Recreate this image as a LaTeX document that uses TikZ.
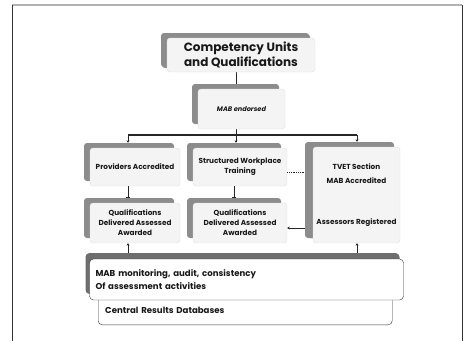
\documentclass[tikz,border=0pt]{standalone}
\usepackage{fontspec}
\setmainfont{Poppins}
\usetikzlibrary{shadows,arrows.meta,backgrounds}

\definecolor{shadowgray}{HTML}{8C8C8C}
\definecolor{darkshadow}{HTML}{6E6E6E}
\definecolor{paleface}{HTML}{F4F4F4}

\tikzset{
    unitbox/.style={rounded corners=3pt, fill=paleface, draw=gray!25,
        inner sep=0pt, align=center, text=black!90,
        font=\bfseries\fontsize{7.3}{10}\selectfont,
        drop shadow={shadow xshift=-6pt, shadow yshift=5pt,
            fill=shadowgray, opacity=1}},
    notebox/.style={rounded corners=4pt, fill=white, draw=black!80,
        inner sep=0pt, align=left, text=black!90,
        font=\bfseries\fontsize{8.6}{13}\selectfont},
    link/.style={draw=black!85, line width=0.8pt},
    tip/.style={-{Stealth[length=2.5pt,width=3pt]}},
    bartip/.style={-{Bar[width=4.5pt,line width=1.2pt]}}
}

\begin{document}
\begin{tikzpicture}[x=1pt,y=-1pt]

    \useasboundingbox (0,0) rectangle (465,340);

    % outer frame
    \draw[gray!60, line width=1.3pt] (12,5) -- (462,5);
    \draw[black!80, line width=0.8pt] (12,5) -- (12,345)
        (462,5) -- (462,345);

    % upper boxes
    \node[unitbox, minimum width=148pt, minimum height=34pt,
        font=\bfseries\fontsize{12}{15}\selectfont,
        drop shadow={shadow xshift=-5pt, shadow yshift=4pt, fill=shadowgray, opacity=1}]
        (units) at (241,55) {Competency Units\\and Qualifications};
    \node[unitbox, minimum width=87pt, minimum height=40pt,
        font=\bfseries\itshape\fontsize{6.6}{8}\selectfont]
        (endorsed) at (241.5,109) {MAB endorsed};

    % middle rows
    \node[unitbox, minimum width=90pt, minimum height=38pt]
        (providers) at (135,167) {Providers Accredited};
    \node[unitbox, minimum width=94pt, minimum height=38pt]
        (workplace) at (240,167) {Structured Workplace\\Training};
    \node[unitbox, minimum width=87pt, minimum height=96pt,
        drop shadow={shadow xshift=-8pt, shadow yshift=5pt, fill=shadowgray, opacity=1}]
        (tvet) at (356.5,195) {TVET Section\\[4pt]MAB Accredited\\[31pt]Assessors Registered};
    \node[unitbox, minimum width=90pt, minimum height=40pt]
        (qualA) at (135,223) {Qualifications\\Delivered Assessed\\Awarded};
    \node[unitbox, minimum width=94pt, minimum height=40pt]
        (qualB) at (240,223) {Qualifications\\Delivered Assessed\\Awarded};

    % bottom boxes
    \node[notebox, minimum width=294pt, minimum height=29pt, text width=280pt,
        anchor=south west, inner xsep=7pt]
        (database) at (98,325) {Central Results Databases};
    \node[notebox, minimum width=313pt, minimum height=41pt, text width=302pt,
        inner xsep=6pt,
        drop shadow={shadow xshift=-4pt, shadow yshift=6pt, fill=darkshadow, opacity=1}]
        (monitor) at (246.5,279.5) {MAB monitoring, audit, consistency\\Of assessment activities};

    % connectors
    \coordinate (split) at (236,135);
    \coordinate (splitL) at (128,135);
    \coordinate (splitR) at (357,135);

    \begin{scope}[on background layer]
    \draw[link] (units.south -| split) -- (split);
    \end{scope}
    \draw[link, line width=1.2pt] (splitL) -- (splitR);
    \draw[link, tip] (split) -- ([yshift=5pt]workplace.north -| split);
    \draw[link, tip] (splitL) -- ([yshift=5pt]providers.north -| splitL);
    \draw[link, tip] (splitR) -- ([yshift=5pt]tvet.north -| splitR);

    \draw[link, bartip] (providers.south -| splitL) -- ([yshift=5pt]qualA.north -| splitL);
    \draw[link, bartip] ([xshift=-6pt]workplace.south) -- ([xshift=-6pt,yshift=5pt]qualB.north);

    \draw[link, densely dotted, line width=0.6pt]
        ([yshift=-5pt]workplace.east) -- ([xshift=-8pt,yshift=-5pt]tvet.west |- workplace.east);
    \draw[link, tip, line width=0.6pt]
        ([xshift=-8pt]tvet.west |- 0,228) -- (qualB.east |- 0,228);

    \draw[link, tip, line width=0.6pt] ([yshift=6pt]monitor.north -| splitL) -- (qualA.south -| splitL);
    \draw[link, tip, line width=0.6pt] ([yshift=6pt]monitor.north -| splitR) -- (tvet.south -| splitR);

\end{tikzpicture}
\end{document}
